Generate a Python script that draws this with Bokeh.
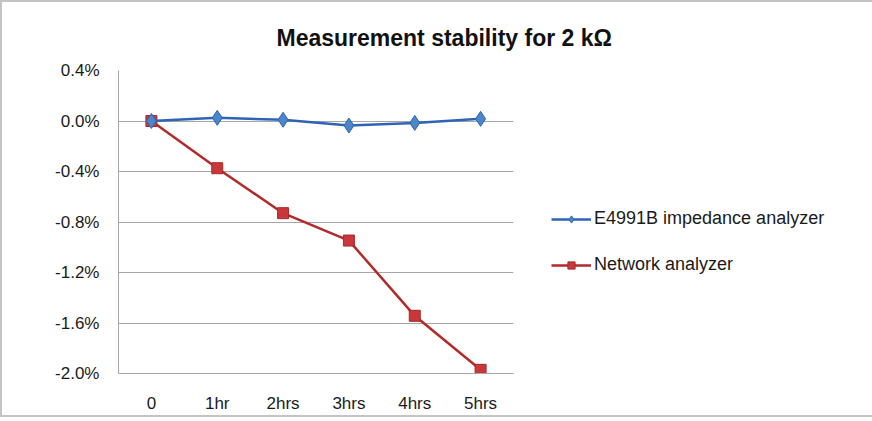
from bokeh.plotting import figure
from bokeh.layouts import column
from bokeh.models import FactorRange, Range1d, FixedTicker, Legend, LegendItem, Title
from bokeh.embed import file_html
from bokeh.resources import INLINE

categories = ["0", "1hr", "2hrs", "3hrs", "4hrs", "5hrs"]
e4991b = [0.0, 0.025, 0.01, -0.036, -0.015, 0.017]
network = [0.0, -0.374, -0.730, -0.947, -1.543, -1.971]
y_ticks = [0.4, 0.0, -0.4, -0.8, -1.2, -1.6, -2.0]
y_labels = {0.4: "0.4%", 0.0: "0.0%", -0.4: "-0.4%", -0.8: "-0.8%",
            -1.2: "-1.2%", -1.6: "-1.6%", -2.0: "-2.0%"}

FONT = "Liberation Sans"

p = figure(frame_width=395, frame_height=303, output_backend="svg", toolbar_location=None,
           x_range=FactorRange(*categories, range_padding=0), y_range=Range1d(-2.0, 0.4),
           min_border_left=116, min_border_right=345, min_border_top=62, min_border_bottom=40)
p.title = Title(text="Measurement stability for 2 kΩ", align="left", offset=158, standoff=40,
                text_font=FONT, text_font_size="23px", text_font_style="bold", text_color="#111111")

p.outline_line_color = None
p.background_fill_color = "white"
p.border_fill_color = "white"

p.xgrid.grid_line_color = None
p.ygrid.grid_line_color = "#a6a6a6"
p.ygrid.grid_line_width = 1
p.yaxis.ticker = FixedTicker(ticks=y_ticks)
p.yaxis.major_label_overrides = {k: v for k, v in y_labels.items()}
for ax in (p.xaxis, p.yaxis):
    ax.axis_line_color = "#a6a6a6"
    ax.major_tick_line_color = None
    ax.minor_tick_line_color = None
    ax.major_label_text_font = FONT
    ax.major_label_text_font_size = "17px"
    ax.major_label_text_color = "#1a1a1a"
p.yaxis.major_label_standoff = 13
p.xaxis.major_label_standoff = 14

r_net_line = p.line(categories, network, line_color="#b22a2a", line_width=2.5)
r_net_pts = p.scatter(categories, network, marker="square", size=11,
                      fill_color="#c9373a", line_color="#a52a2a", line_width=1)
r_e_line = p.line(categories, e4991b, line_color="#2f63b5", line_width=2.5)
r_e_pts = p.scatter(categories, e4991b, marker="diamond", size=15,
                    fill_color="#4a86c8", line_color="#2f63b5", line_width=1)

legend = Legend(items=[
    LegendItem(label="E4991B impedance analyzer", renderers=[r_e_line, r_e_pts]),
    LegendItem(label="Network analyzer", renderers=[r_net_line, r_net_pts]),
], location=(38, 98), label_text_font=FONT, label_text_font_size="18px",
    label_text_color="#1a1a1a", glyph_width=40, glyph_height=18, label_height=18,
    label_standoff=3, spacing=25,
    border_line_color=None, background_fill_alpha=0, padding=0, margin=0)
p.add_layout(legend, "right")

layout = column(p, styles={"border": "2px solid #c4c4c4"})

open("out.html", "w").write(file_html(layout, INLINE))
